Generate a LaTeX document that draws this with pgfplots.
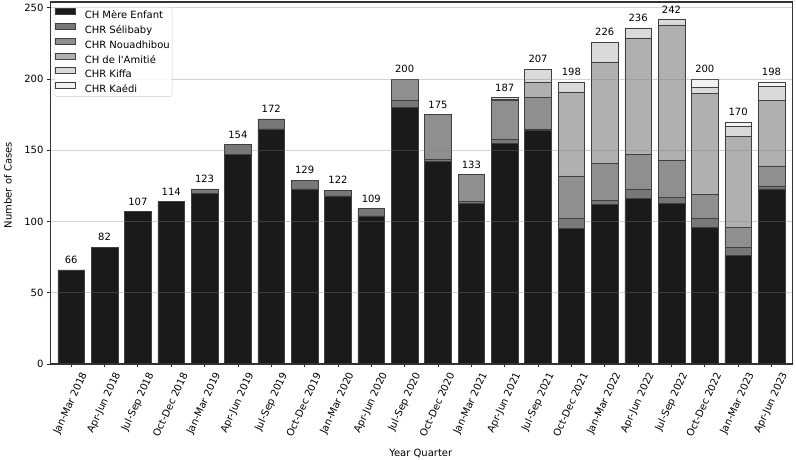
\documentclass[border=0pt]{standalone}
\usepackage{fontspec}
\setmainfont{DejaVu Sans}
\usepackage{pgfplots}
\usepackage{pgfplotstable}
\pgfplotsset{compat=1.18}

\definecolor{cME}{HTML}{1A1A1A}
\definecolor{cSel}{HTML}{787878}
\definecolor{cNou}{HTML}{8F8F8F}
\definecolor{cAmi}{HTML}{B0B0B0}
\definecolor{cKif}{HTML}{DADADA}
\definecolor{cKae}{HTML}{F2F2F2}

% cases per quarter and hospital; tot = quarterly total
\pgfplotstableread{
x  me  sel nou ami kif kae tot
0  66  0   0   0   0   0   66
1  82  0   0   0   0   0   82
2  107 0   0   0   0   0   107
3  114 0   0   0   0   0   114
4  120 3   0   0   0   0   123
5  147 7   0   0   0   0   154
6  165 7   0   0   0   0   172
7  123 6   0   0   0   0   129
8  118 4   0   0   0   0   122
9  104 5   0   0   0   0   109
10 180 5   15  0   0   0   200
11 142 2   31  0   0   0   175
12 113 1   19  0   0   0   133
13 155 3   27  1   1   0   187
14 164 1   22  11  9   0   207
15 95  7   30  59  7   0   198
16 112 3   26  71  14  0   226
17 116 7   24  82  7   0   236
18 113 4   26  95  4   0   242
19 96  6   17  71  4   6   200
20 76  6   14  64  7   3   170
21 123 2   14  46  10  3   198
}\cases

\pgfplotsset{
  frame/.style={
    scale only axis,
    width=742pt, height=362pt,
    bar width=0.8,
    xmin=-0.62, xmax=21.63,
    ymin=0, ymax=254.1,
    font=\fontsize{10}{12}\selectfont,
    /pgf/number format/assume math mode=true,
  }
}

\begin{document}
\begin{tikzpicture}
\useasboundingbox (-50.5pt,-96pt) rectangle (745.5pt,364pt);
\begin{axis}[
  frame,
  ybar stacked,
  xtick={0,...,21},
  xticklabels={Jan-Mar 2018,Apr-Jun 2018,Jul-Sep 2018,Oct-Dec 2018,
    Jan-Mar 2019,Apr-Jun 2019,Jul-Sep 2019,Oct-Dec 2019,
    Jan-Mar 2020,Apr-Jun 2020,Jul-Sep 2020,Oct-Dec 2020,
    Jan-Mar 2021,Apr-Jun 2021,Jul-Sep 2021,Oct-Dec 2021,
    Jan-Mar 2022,Apr-Jun 2022,Jul-Sep 2022,Oct-Dec 2022,
    Jan-Mar 2023,Apr-Jun 2023},
  ytick={0,50,...,250},
  tick pos=left, tick align=outside,
  major tick length=3.5pt,
  every tick/.style={black!85, line width=0.8pt},
  axis line style={black!80, line width=1.1pt},
  ymajorgrids,
  major grid style={black!50, opacity=0.35, line width=0.8pt},
  axis on top,
  ticklabel style={font=\fontsize{10}{12}\selectfont},
  xticklabel style={xshift=15pt, yshift=-2.6pt, rotate=65, anchor=east},
  xlabel={Year Quarter},
  ylabel={Number of Cases},
  xlabel style={at={(axis description cs:0.499,-0.2459)}, anchor=center},
  ylabel style={at={(axis description cs:-0.0573,0.494)}, anchor=center},
  every axis plot/.append style={draw=black!75, line width=0.5pt},
  legend cell align=left,
  legend image code/.code={\draw[#1, sharp corners, fill opacity=1, draw opacity=1, line width=0.5pt] (0pt,0.6pt) rectangle (20pt,6.6pt);},
  legend style={at={(axis description cs:0.0051,0.9854)}, anchor=north west,
    draw=black!20, rounded corners=2pt, fill=white, fill opacity=0.85,
    text opacity=1, inner sep=1pt, row sep=1.6pt,
    nodes={inner sep=1.35pt},
    /tikz/every odd column/.append style={column sep=7.5pt},
    font=\fontsize{10}{12}\selectfont},
]
\addplot[fill=cME] table[x=x, y=me] {\cases};
\addlegendentry{\strut CH Mère Enfant}
\addplot[fill=cSel] table[x=x, y=sel] {\cases};
\addlegendentry{\strut CHR Sélibaby}
\addplot[fill=cNou] table[x=x, y=nou] {\cases};
\addlegendentry{\strut CHR Nouadhibou}
\addplot[fill=cAmi] table[x=x, y=ami] {\cases};
\addlegendentry{\strut CH de l\textquotesingle Amitié}
\addplot[fill=cKif] table[x=x, y=kif] {\cases};
\addlegendentry{\strut CHR Kiffa}
\addplot[fill=cKae] table[x=x, y=kae] {\cases};
\addlegendentry{\strut CHR Kaédi}
\end{axis}
% quarterly totals printed above each bar
\begin{axis}[
  frame,
  ybar,
  hide axis,
]
\addplot[draw=none, fill=none,
  nodes near coords,
  nodes near coords style={anchor=south, inner sep=0pt, yshift=6pt,
    text=black, font=\fontsize{10}{12}\selectfont}]
  table[x=x, y=tot] {\cases};
\end{axis}
\end{tikzpicture}
\end{document}
